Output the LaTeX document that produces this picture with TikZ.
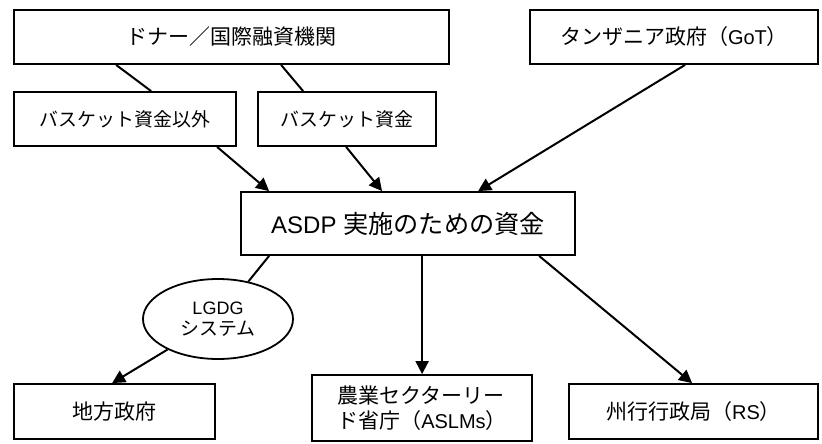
\documentclass[tikz,border=0pt]{standalone}
\usepackage{fontspec}
\setmainfont{Liberation Sans}
\newfontfamily\jp[Scale=1.05]{Noto Sans CJK JP}
\usetikzlibrary{arrows.meta,shapes.geometric,calc}
\begin{document}
\begin{tikzpicture}[x=1pt,y=-1pt,
  box/.style={draw,line width=1.8pt,rectangle,inner sep=0pt,font=\fontsize{20}{24}\selectfont},
  conn/.style={line width=2pt},
  arr/.style={line width=2pt,-{Triangle[length=13pt,width=13pt]}}]
\useasboundingbox[fill=white] (0,0) rectangle (822,444);
\node[box,minimum width=435pt,minimum height=54pt] (donor) at (231.5,37) {\jp ドナー／国際融資機関};
\node[box,minimum width=288pt,minimum height=54pt] (got) at (674,37) {{\jp タンザニア政府（}GoT{\jp ）}};
\node[box,minimum width=222pt,minimum height=54pt,font=\fontsize{18}{22}\selectfont] (lb) at (125,119) {\jp バスケット資金以外};
\node[box,minimum width=178pt,minimum height=54pt,font=\fontsize{18}{22}\selectfont] (rb) at (347,119) {\jp バスケット資金};
\node[box,minimum width=334pt,minimum height=63pt,font=\fontsize{24}{28}\selectfont] (asdp) at (408,223.5) {ASDP {\jp 実施のための資金}};
\node[draw,ellipse,line width=1.8pt,minimum width=150pt,minimum height=80pt,inner sep=0pt,align=center,font=\fontsize{18}{22}\selectfont] (lgdg) at (218,319) {LGDG\\[-1pt]{\jp システム}};
\node[box,minimum width=201pt,minimum height=55pt] (lg) at (114.5,411.5) {\jp 地方政府};
\node[box,minimum width=220pt,minimum height=66pt,align=left] (aslm) at (422,408) {{\jp 農業セクターリー}\\[1pt]{\jp ド省庁（}ASLMs{\jp ）}};
\node[box,minimum width=249pt,minimum height=55pt] (rs) at (693.5,411.5) {{\jp 州行行政局（}RS{\jp ）}};
\draw[conn] ($(donor.south west)+(103,0)$) -- ($(lb.north west)+(138,0)$);
\draw[conn] ($(donor.south west)+(268,0)$) -- ($(rb.north west)+(46,0)$);
\draw[arr] ($(lb.south west)+(204,0)$) -- ($(asdp.north west)+(29,0)$);
\draw[arr] ($(rb.south west)+(89,0)$) -- ($(asdp.north west)+(142,0)$);
\draw[arr] ($(got.south west)+(156,0)$) -- ($(asdp.north west)+(238,0)$);
\draw[conn] ($(asdp.south west)+(29,0)$) -- (lgdg);
\draw[arr] (lgdg) -- ($(lg.north west)+(99,0)$);
\draw[arr] ($(asdp.south west)+(182,0)$) -- ($(aslm.north west)+(111,0)$);
\draw[arr] ($(asdp.south west)+(299,0)$) -- ($(rs.north west)+(124,0)$);
\end{tikzpicture}
\end{document}
